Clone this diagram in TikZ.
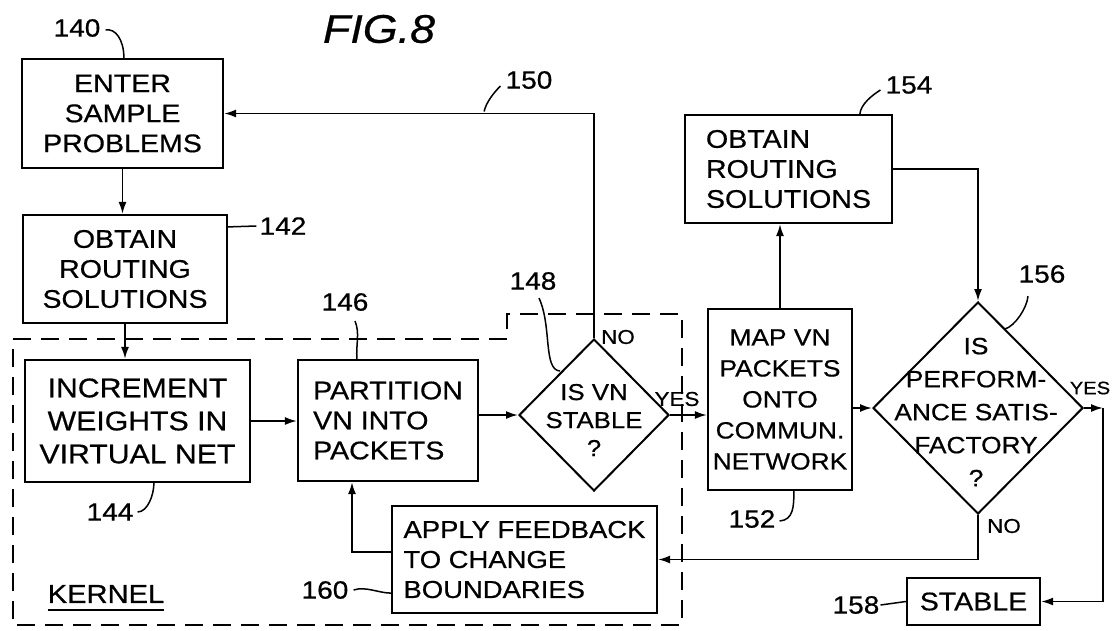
\documentclass[tikz,border=0pt]{standalone}
\usepackage{fontspec}
\setmainfont[FakeStretch=1.12,FakeBold=0.6]{Liberation Sans}
\usetikzlibrary{shapes.geometric,arrows.meta,calc}
\newcommand\bxf{\fontsize{25.5}{30}\selectfont}
\newcommand\bigbxf{\fontsize{27}{33}\selectfont}
\newcommand\numf{\fontsize{25}{28}\selectfont}
\newcommand\lblf{\fontsize{20}{24}\selectfont}
\newcommand\figf{\fontsize{40}{44}\selectfont\itshape}
\begin{document}
\begin{tikzpicture}[x=1pt,y=-1pt,
  box/.style={draw, line width=2.2pt, inner sep=0pt, align=center, font=\bxf},
  dia/.style={draw, diamond, line width=2pt, inner sep=0pt},
  diatext/.style={inner sep=0pt, align=center},
  conn/.style={line width=1.8pt, -{Latex[length=12pt,width=8pt]}},
  lead/.style={line width=1.5pt},
  num/.style={font=\numf, inner sep=1pt},
  lbl/.style={font=\lblf, inner sep=0pt},
  kern/.style={line width=1.9pt, dash pattern=on 18pt off 10pt}
]
\useasboundingbox (0,0) rectangle (1112,630);

% title
\node[inner sep=0pt] (fig) at (379,29) {\figf FIG.8};

% kernel boundary
\draw[kern] (13,339) -- (507,339) -- (507,314) -- (682,314) -- (682,625) -- (13,625) -- cycle;
\node[inner sep=0pt, font=\fontsize{26}{30}\selectfont] (kernel) at (106,594) {KERNEL};
\draw[lead] ([yshift=-7pt]kernel.south west) -- ([yshift=-7pt]kernel.south east);

% boxes
\node[box, minimum width=201pt, minimum height=109pt] (b140) at (122.5,113.5) {ENTER\\SAMPLE\\PROBLEMS};
\node[box, minimum width=204pt, minimum height=108pt] (b142) at (125,269) {OBTAIN\\ROUTING\\SOLUTIONS};
\node[box, minimum width=225pt, minimum height=122pt, font=\bigbxf] (b144) at (137.5,421) {INCREMENT\\WEIGHTS IN\\VIRTUAL NET};
\node[box, minimum width=180pt, minimum height=121pt, align=left] (b146) at (388,420.5) {PARTITION\\VN INTO\\PACKETS};
\node[dia, minimum width=150pt, minimum height=152pt] (d148) at (594,415) {};
\node[diatext, font=\fontsize{23}{28}\selectfont] (t148) at (594,420) {IS VN\\STABLE\\?};
\node[box, minimum width=144pt, minimum height=181pt, font=\fontsize{23.5}{31}\selectfont] (b152) at (780,399.5) {MAP VN\\PACKETS\\ONTO\\COMMUN.\\NETWORK};
\node[box, minimum width=207pt, minimum height=108pt, align=left] (b154) at (788.5,169) {OBTAIN\\ROUTING\\SOLUTIONS};
\node[dia, minimum width=210pt, minimum height=212pt] (d156) at (978,408) {};
\node[diatext, font=\fontsize{23.5}{33}\selectfont] (t156) at (976,412) {IS\\PERFORM-\\ANCE SATIS-\\FACTORY\\?};
\node[box, minimum width=133pt, minimum height=47pt] (b158) at (973.5,601.5) {STABLE};
\node[box, minimum width=265pt, minimum height=107pt, align=left, font=\fontsize{24.5}{30}\selectfont] (b160) at (524.5,559.5) {APPLY FEEDBACK\\TO CHANGE\\BOUNDARIES};

% branch labels
\node[lbl] (no148) at (618,337) {NO};
\node[lbl] (yes148) at (677,399) {YES};
\node[lbl, font=\fontsize{18}{22}\selectfont] (yes156) at (1090,388) {YES};
\node[lbl] (no156) at (1004,526) {NO};

% connectors
\draw[conn] (b140.south) -- (b140.south |- b142.north);
\draw[conn] (b142.south) -- (b142.south |- b144.north);
\draw[conn] (b144.east) -- (b144.east -| b146.west);
\draw[conn] (d148.west -| b146.east) -- (d148.west);
\draw[conn] (d148.east) -- (d148.east -| b152.west);
\draw[conn] (d148.north) |- (b140.east);
\draw[conn] (b152.north) -- (b152.north |- b154.south);
\draw[conn] (b154.east) -| (d156.north);
\draw[conn] (d156.west -| b152.east) -- (d156.west);
\coordinate (c156) at (1103,408);
\draw[conn] (d156.east) -- (c156);
\draw[conn] (c156) |- (b158.east);
\draw[conn] (d156.south) |- (b160.east);
\draw[conn] ([yshift=7.5pt]b160.west) -| ([xshift=-36pt]b146.south);

% reference numerals
\node[num] (n140) at (77,28) {140};
\node[num] (n142) at (283,226) {142};
\node[num] (n144) at (110,512) {144};
\node[num] (n146) at (345,302) {146};
\node[num] (n148) at (533,281) {148};
\node[num] (n150) at (529,80) {150};
\node[num] (n152) at (752,519) {152};
\node[num] (n154) at (909,85) {154};
\node[num] (n156) at (1042,274) {156};
\node[num] (n158) at (856,605) {158};
\node[num] (n160) at (325,590) {160};

\draw[lead] ($(n140.east)+(4,2)$) .. controls +(10,-2) and +(0,-18) .. ($(b140.north west)+(103,0)$);
\draw[lead] ($(b142.north east)+(0,13)$) -- ($(n142.west)+(-2,0)$);
\draw[lead] ($(n144.east)+(3,0)$) .. controls +(10,0) and +(0,12) .. ($(b144.south west)+(130,0)$);
\draw[lead] ($(n146.south)+(10,9)$) .. controls +(5,12) and +(-1,-15) .. ($(b146.north west)+(60,0)$);
\draw[lead] ($(n148.south)+(6,7)$) .. controls +(13,28) and +(-17,-1) .. (560,371);
\draw[lead] ($(n150.west)+(-4,6)$) .. controls +(-7,7) and +(2,-9) .. ($(b140.east)+(260,-2)$);
\draw[lead] ($(n152.east)+(3,2)$) .. controls +(14,-1) and +(0,15) .. ($(b152.south west)+(87,0)$);
\draw[lead] ($(n154.west)+(-4,5)$) .. controls +(-8,5) and +(1,-10) .. ($(b154.north west)+(176,0)$);
\draw[lead] ($(n156.south)+(-14,12)$) .. controls +(-1,12) and +(10,-3) .. (1005,329);
\draw[lead] (n158.east) -- (b158.west);
\draw[lead] ($(n160.east)+(4,0)$) .. controls +(12,-4) and +(-12,0) .. ($(b160.south west)+(0,-21)$);
\end{tikzpicture}
\end{document}
